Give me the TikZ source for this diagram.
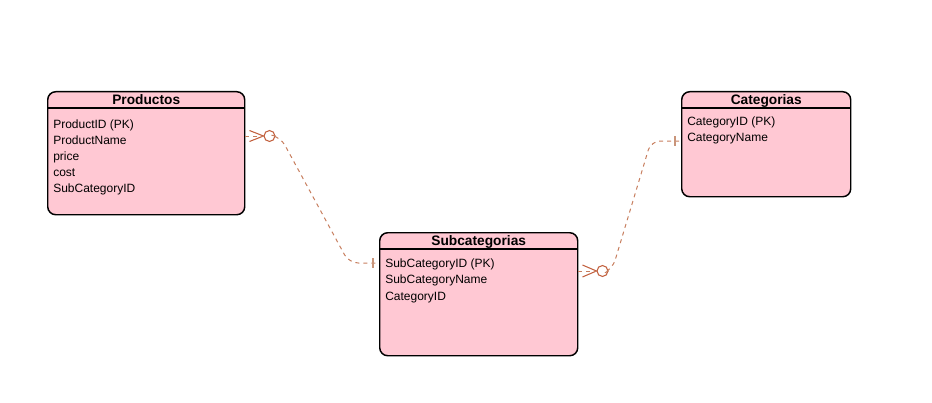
\documentclass[tikz,border=0pt]{standalone}
\usepackage{fontspec}
\setmainfont{Liberation Sans}
\usetikzlibrary{calc}
\definecolor{pinkfill}{HTML}{FFC8D3}
\definecolor{markc}{HTML}{C2603E}
\definecolor{dashc}{HTML}{C77E5E}
\definecolor{barc}{HTML}{C9957A}
\begin{document}
\begin{tikzpicture}[x=0.75pt,y=-0.75pt,
  tbl/.style={draw=black, line width=1.1pt, rounded corners=6pt, fill=pinkfill, inner sep=0pt, anchor=north west},
  hdr/.style={draw=black, line width=0.8pt},
  ttl/.style={font=\fontsize{10.3}{12}\selectfont\bfseries, inner sep=0pt, anchor=base},
  fld/.style={font=\fontsize{9}{11}\selectfont, inner sep=0pt, anchor=base west},
  mk/.style={draw=markc, line width=0.8pt},
  dsh/.style={draw=dashc, line width=0.75pt, dash pattern=on 3pt off 3pt},
  barline/.style={draw=barc, line width=0.9pt},
  circ/.style={circle, draw=markc, line width=0.8pt, minimum size=8.2pt, inner sep=0pt}
]
\useasboundingbox (0,0) rectangle (932,403);

% Productos
\node[tbl, minimum width=147.75pt, minimum height=92.25pt] (prod) at (47,91) {};
\draw[hdr] ($(prod.north west)+(0,17)$) -- ($(prod.north east)+(0,17)$);
\node[ttl] (prodT) at ($(prod.north)+(0,13.5)$) {Productos};
\node[fld] (prod1) at ($(prod.north west)+(6,37)$) {ProductID (PK)};
\node[fld] (prod2) at ($(prod.north west)+(6,53)$) {ProductName};
\node[fld] (prod3) at ($(prod.north west)+(6,69)$) {price};
\node[fld] (prod4) at ($(prod.north west)+(6,85)$) {cost};
\node[fld] (prod5) at ($(prod.north west)+(6,101)$) {SubCategoryID};

% Categorias
\node[tbl, minimum width=126.75pt, minimum height=78.75pt] (cat) at (681,91) {};
\draw[hdr] ($(cat.north west)+(0,17)$) -- ($(cat.north east)+(0,17)$);
\node[ttl] (catT) at ($(cat.north)+(0,13.5)$) {Categorias};
\node[fld] (cat1) at ($(cat.north west)+(6,35)$) {CategoryID (PK)};
\node[fld] (cat2) at ($(cat.north west)+(6,51)$) {CategoryName};

% Subcategorias
\node[tbl, minimum width=148.5pt, minimum height=92.25pt] (sub) at (379,232) {};
\draw[hdr] ($(sub.north west)+(0,17)$) -- ($(sub.north east)+(0,17)$);
\node[ttl] (subT) at ($(sub.north)+(0,13.5)$) {Subcategorias};
\node[fld] (sub1) at ($(sub.north west)+(6,35)$) {SubCategoryID (PK)};
\node[fld] (sub2) at ($(sub.north west)+(6,51)$) {SubCategoryName};
\node[fld] (sub3) at ($(sub.north west)+(6,68)$) {CategoryID};

% connector end points
\coordinate (pE) at ($(prod.north east)+(0,45)$);
\coordinate (sW) at ($(sub.north west)+(0,31)$);
\coordinate (sE) at ($(sub.north east)+(0,39)$);
\coordinate (cW) at ($(cat.north west)+(0,50)$);

% Productos -> Subcategorias
\draw[mk] ($(pE)+(4,-5.5)$) -- ($(pE)+(18,0)$) -- ($(pE)+(4,5.5)$);
\node[circ] (pO) at ($(pE)+(24,0)$) {};
\draw[dsh] (pE) -- (pO.west);
\draw[dsh, rounded corners=7pt] (pO.east) -- ++(5,1) -- ($(sW)+(-30,0)$) -- (sW);
\draw[barline] ($(sW)+(-6,-5)$) -- ($(sW)+(-6,5)$);

% Subcategorias -> Categorias
\draw[mk] ($(sE)+(4,-6)$) -- ($(sE)+(18,0)$) -- ($(sE)+(4,6)$);
\node[circ] (sO) at ($(sE)+(24,0)$) {};
\draw[dsh] (sE) -- (sO.west);
\draw[dsh, rounded corners=7pt] (sO.east) -- ++(4,-2) -- ($(cW)+(-30,0)$) -- (cW);
\draw[barline] ($(cW)+(-6,-5)$) -- ($(cW)+(-6,5)$);
\end{tikzpicture}
\end{document}
